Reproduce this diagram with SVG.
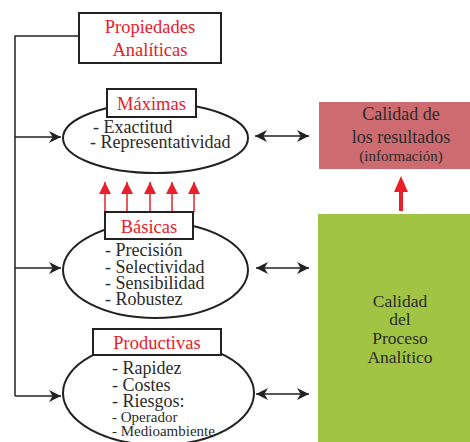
<svg xmlns="http://www.w3.org/2000/svg" width="470" height="442" viewBox="0 0 470 442">
<style>
text{font-family:'Liberation Serif','DejaVu Serif',serif;fill:#2b2b2b}
.t{font-size:18px}
.g{font-size:17.5px}
.s{font-size:15px}
.r{fill:#e8202a;font-size:18.5px}
.box{fill:#fff;stroke:#222;stroke-width:2}
.ell{fill:#fff;stroke:#222;stroke-width:2}
.ln{fill:none;stroke:#222;stroke-width:1.5}
</style>
<defs>
<marker id="ah" viewBox="0 0 10 10" refX="10" refY="5" markerWidth="12" markerHeight="12" markerUnits="userSpaceOnUse" orient="auto-start-reverse"><path d="M0,0 L10,5 L0,10 L3,5 Z" fill="#222"/></marker>
<marker id="rh" viewBox="0 0 10 10" refX="10" refY="5" markerWidth="14" markerHeight="12" markerUnits="userSpaceOnUse" orient="auto"><path d="M0,0 L10,5 L0,10 Z" fill="#e8202a"/></marker>
</defs>
<g id="connectors">
<path class="ln" d="M79,36 H15 V396"/>
<path class="ln" d="M15,137 H61" marker-end="url(#ah)"/>
<path class="ln" d="M15,268 H61" marker-end="url(#ah)"/>
<path class="ln" d="M15,396 H61" marker-end="url(#ah)"/>
<path class="ln" d="M255,136 H309" marker-start="url(#ah)" marker-end="url(#ah)"/>
<path class="ln" d="M256,268 H309" marker-start="url(#ah)" marker-end="url(#ah)"/>
<path class="ln" d="M256,394 H309" marker-start="url(#ah)" marker-end="url(#ah)"/>
<g stroke="#e8202a" stroke-width="1.5">
<path d="M105,212 V182" marker-end="url(#rh)"/>
<path d="M127,212 V182" marker-end="url(#rh)"/>
<path d="M150,212 V182" marker-end="url(#rh)"/>
<path d="M172,212 V182" marker-end="url(#rh)"/>
<path d="M194,212 V182" marker-end="url(#rh)"/>
</g>
<path d="M401,211 V190" stroke="#e8202a" stroke-width="4"/>
<path d="M394,192 L401,176 L408,192 Z" fill="#e8202a"/>
</g>
<g id="propiedades">
<rect class="box" x="79" y="13" width="142" height="50"/>
<text class="r" x="150" y="33" text-anchor="middle">Propiedades</text>
<text class="r" x="150" y="56" text-anchor="middle">Analíticas</text>
</g>
<g id="maximas">
<ellipse class="ell" cx="155.5" cy="138" rx="92.5" ry="35"/>
<rect class="box" x="107" y="89" width="89" height="28"/>
<text class="r" x="151.5" y="110" text-anchor="middle">Máximas</text>
<text class="t" x="93" y="133">- Exactitud</text>
<text class="t" x="90" y="147.5">- Representatividad</text>
</g>
<g id="basicas">
<ellipse class="ell" cx="155.5" cy="270" rx="92.5" ry="48"/>
<rect class="box" x="105" y="212" width="88" height="27"/>
<text class="r" x="149" y="232.5" text-anchor="middle">Básicas</text>
<text class="t" x="105" y="256">- Precisión</text>
<text class="t" x="105" y="273">- Selectividad</text>
<text class="t" x="105" y="289">- Sensibilidad</text>
<text class="t" x="105" y="305">- Robustez</text>
</g>
<g id="productivas">
<ellipse class="ell" cx="158.5" cy="393" rx="95.5" ry="52"/>
<rect class="box" x="93" y="329" width="128" height="26"/>
<text class="r" x="157" y="349" text-anchor="middle">Productivas</text>
<text class="t" x="112" y="374">- Rapidez</text>
<text class="t" x="112" y="391">- Costes</text>
<text class="t" x="112" y="407">- Riesgos:</text>
<text class="s" x="112" y="422">- Operador</text>
<text class="s" x="112" y="436">- Medioambiente</text>
</g>
<g id="resultados">
<rect x="319" y="102" width="151" height="67" fill="#cd6b70"/>
<text class="t" x="401" y="120" text-anchor="middle">Calidad de</text>
<text class="t" x="401" y="143" text-anchor="middle">los resultados</text>
<text class="s" x="401" y="161" text-anchor="middle">(información)</text>
</g>
<g id="proceso">
<rect x="318" y="214" width="152" height="228" fill="#a2c444"/>
<text class="g" x="400" y="307" text-anchor="middle">Calidad</text>
<text class="g" x="400" y="325" text-anchor="middle">del</text>
<text class="g" x="400" y="344" text-anchor="middle">Proceso</text>
<text class="g" x="400" y="363" text-anchor="middle">Analítico</text>
</g>
</svg>
